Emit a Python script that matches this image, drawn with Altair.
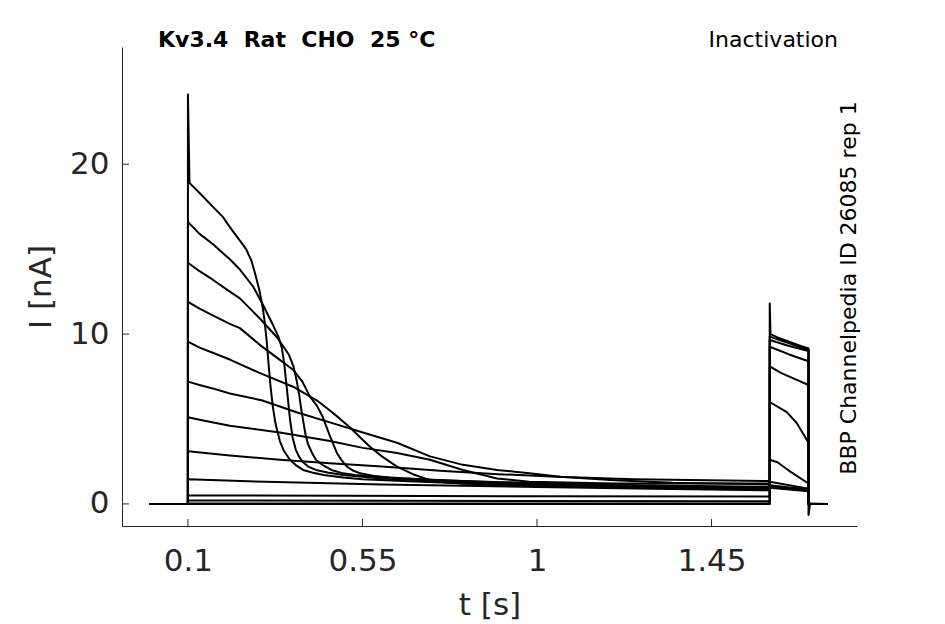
import altair as alt
import pandas as pd

# axis ticks
x_ticks = [0.1, 0.55, 1, 1.45]
y_ticks = [0, 10, 20]

# holding potential before the prepulse, and after the test pulse
hold_t = [0.0, 0.1]
hold_i = [0.0, 0.0]
end_t = [1.75]
end_i = [0.0]

# prepulse segment (0.1 - 1.6 s), one pair of lists per sweep
pre_t1 = [0.1, 0.104, 0.13, 0.164, 0.19, 0.208, 0.234, 0.25, 0.264, 0.275, 0.284, 0.291, 0.297, 0.303, 0.308, 0.313,
          0.319, 0.326, 0.337, 0.348, 0.363, 0.38, 0.397, 0.42, 0.45, 0.5, 0.55, 0.7, 0.9, 1.1, 1.3, 1.6]
pre_i1 = [24.1, 18.9, 18.3, 17.5, 16.9, 16.3, 15.5, 15.0, 14.3, 13.4, 12.6, 11.8, 10.9, 9.6, 8.2, 6.9,
          5.7, 4.7, 3.7, 3.1, 2.6, 2.25, 2.0, 1.85, 1.7, 1.55, 1.45, 1.3, 1.15, 1.05, 0.95, 0.85]
pre_t2 = [0.1, 0.13, 0.164, 0.208, 0.234, 0.268, 0.294, 0.32, 0.334, 0.342, 0.348, 0.355, 0.363, 0.37, 0.378, 0.386,
          0.395, 0.41, 0.43, 0.46, 0.5, 0.6, 0.8, 1.0, 1.3, 1.6]
pre_i2 = [16.6, 15.9, 15.3, 14.4, 13.8, 12.8, 11.7, 10.5, 9.8, 9.2, 8.3, 6.8, 5.0, 3.9, 3.2, 2.8,
          2.5, 2.2, 2.0, 1.85, 1.7, 1.5, 1.3, 1.15, 1.0, 0.9]
pre_t3 = [0.1, 0.13, 0.164, 0.208, 0.234, 0.286, 0.33, 0.36, 0.372, 0.38, 0.387, 0.392, 0.397, 0.403, 0.41, 0.42,
          0.43, 0.45, 0.47, 0.5, 0.53, 0.65, 0.85, 1.1, 1.35, 1.6]
pre_i3 = [14.2, 13.7, 13.2, 12.5, 12.1, 10.9, 9.8, 8.8, 8.1, 7.3, 6.4, 5.6, 4.9, 4.1, 3.5, 3.0,
          2.6, 2.25, 2.0, 1.8, 1.7, 1.5, 1.3, 1.15, 1.05, 0.95]
pre_t4 = [0.1, 0.13, 0.164, 0.208, 0.234, 0.286, 0.33, 0.371, 0.395, 0.415, 0.432, 0.448, 0.466, 0.484, 0.497, 0.51,
          0.527, 0.544, 0.58, 0.62, 0.75, 0.95, 1.2, 1.6]
pre_i4 = [11.9, 11.5, 11.1, 10.6, 10.35, 9.35, 8.6, 7.9, 7.2, 6.3, 5.8, 5.1, 4.0, 3.0, 2.55, 2.2,
          1.95, 1.8, 1.65, 1.55, 1.4, 1.25, 1.1, 1.0]
pre_t5 = [0.1, 0.13, 0.164, 0.208, 0.286, 0.371, 0.432, 0.466, 0.49, 0.518, 0.545, 0.57, 0.6, 0.639, 0.68, 0.724,
          0.76, 0.8, 0.9, 1.0, 1.3, 1.6]
pre_i5 = [9.55, 9.2, 8.9, 8.5, 7.7, 6.9, 6.1, 5.5, 5.05, 4.5, 3.9, 3.35, 2.8, 2.2, 1.75, 1.4,
          1.28, 1.2, 1.1, 1.05, 0.95, 0.95]
pre_t6 = [0.1, 0.13, 0.164, 0.208, 0.29, 0.38, 0.466, 0.551, 0.639, 0.724, 0.809, 0.897, 0.98, 1.06, 1.2, 1.35, 1.6]
pre_i6 = [7.2, 7.0, 6.8, 6.5, 6.1, 5.4, 4.8, 4.2, 3.6, 2.8, 2.3, 2.0, 1.8, 1.6, 1.4, 1.25, 1.15]
pre_t7 = [0.1, 0.13, 0.208, 0.337, 0.466, 0.551, 0.639, 0.724, 0.809, 0.897, 0.98, 1.2, 1.6]
pre_i7 = [5.1, 4.95, 4.6, 4.2, 3.7, 3.3, 3.0, 2.6, 2.0, 1.5, 1.3, 1.2, 1.2]
pre_t8 = [0.1, 0.208, 0.337, 0.466, 0.6, 0.75, 0.9, 1.05, 1.25, 1.6]
pre_i8 = [3.1, 2.85, 2.6, 2.4, 2.2, 1.95, 1.75, 1.6, 1.45, 1.35]
pre_t9 = [0.1, 0.3, 0.6, 1.0, 1.3, 1.6]
pre_i9 = [1.45, 1.3, 1.15, 1.0, 0.9, 0.8]
pre_t10 = [0.1, 0.5, 1.0, 1.6]
pre_i10 = [0.5, 0.48, 0.45, 0.43]
pre_t11 = [0.1, 1.6]
pre_i11 = [0.2, 0.15]
pre_t12 = [0.1, 1.6]
pre_i12 = [0.03, 0.02]
pre_t13 = [0.1, 1.6]
pre_i13 = [0.0, 0.0]

# test pulse segment (1.6 - 1.7 s)
test_t1 = [1.6, 1.7, 1.7]
test_i1 = [0.95, 0.75, 0.0]
test_t2 = [1.6, 1.7, 1.7]
test_i2 = [1.0, 0.78, 0.0]
test_t3 = [1.6, 1.7, 1.7]
test_i3 = [1.0, 0.8, 0.0]
test_t4 = [1.6, 1.7, 1.7]
test_i4 = [1.05, 0.8, 0.0]
test_t5 = [1.6, 1.7, 1.7]
test_i5 = [1.1, 0.85, 0.0]
test_t6 = [1.6, 1.7, 1.7]
test_i6 = [1.3, 0.9, 0.0]
test_t7 = [1.6, 1.62, 1.65, 1.7, 1.7]
test_i7 = [2.6, 2.45, 1.95, 1.2, 0.0]
test_t8 = [1.6, 1.644, 1.67, 1.7, 1.7]
test_i8 = [6.0, 5.4, 4.75, 3.6, 0.0]
test_t9 = [1.6, 1.63, 1.67, 1.7, 1.7]
test_i9 = [8.1, 7.7, 7.3, 7.0, 0.0]
test_t10 = [1.6, 1.65, 1.7, 1.7]
test_i10 = [9.25, 8.8, 8.4, 0.0]
test_t11 = [1.6, 1.65, 1.7, 1.7]
test_i11 = [9.65, 9.3, 9.0, 0.0]
test_t12 = [1.6, 1.65, 1.7, 1.7]
test_i12 = [9.85, 9.45, 9.06, 0.0]
test_t13 = [1.6, 1.602, 1.62, 1.65, 1.68, 1.7, 1.7, 1.704]
test_i13 = [11.8, 10.0, 9.8, 9.55, 9.3, 9.15, -0.65, 0.02]

pre_ts = [pre_t1, pre_t2, pre_t3, pre_t4, pre_t5, pre_t6, pre_t7, pre_t8, pre_t9, pre_t10, pre_t11, pre_t12, pre_t13]
pre_is = [pre_i1, pre_i2, pre_i3, pre_i4, pre_i5, pre_i6, pre_i7, pre_i8, pre_i9, pre_i10, pre_i11, pre_i12, pre_i13]
test_ts = [test_t1, test_t2, test_t3, test_t4, test_t5, test_t6, test_t7, test_t8, test_t9, test_t10, test_t11, test_t12, test_t13]
test_is = [test_i1, test_i2, test_i3, test_i4, test_i5, test_i6, test_i7, test_i8, test_i9, test_i10, test_i11, test_i12, test_i13]

rows = []
for n in range(len(pre_ts)):
    ts = hold_t + pre_ts[n] + test_ts[n] + end_t
    vs = hold_i + pre_is[n] + test_is[n] + end_i
    for k, (t, v) in enumerate(zip(ts, vs)):
        rows.append({'sweep': n + 1, 'k': k, 't': t, 'I': v})
df = pd.DataFrame(rows)

W, H = 735, 479
FONT = 'DejaVu Sans'
INK = '#262626'

x_scale = alt.Scale(domain=[-0.07, 1.825], nice=False, zero=False)
y_scale = alt.Scale(domain=[-1.3, 26.9], nice=False, zero=False)
x_axis = alt.Axis(values=x_ticks, labelExpr='toString(datum.value)', title='t [s]', ticks=False, tickSize=0,
                  labelPadding=20, titlePadding=14, grid=False)
y_axis = alt.Axis(values=y_ticks, title='I [nA]', ticks=False, tickSize=0,
                  labelPadding=13, titlePadding=12, grid=False)

traces = alt.Chart(df).mark_line(color='black', strokeWidth=2, strokeJoin='round').encode(
    x=alt.X('t:Q', scale=x_scale, axis=x_axis),
    y=alt.Y('I:Q', scale=y_scale, axis=y_axis),
    detail='sweep:N',
    order='k:Q'
)

# inward tick marks
x_tick_marks = alt.Chart(pd.DataFrame({'t': x_ticks})).mark_rule(color=INK, strokeWidth=1).encode(
    x=alt.X('t:Q', scale=x_scale, axis=x_axis),
    y=alt.value(H), y2=alt.value(H - 7)
)
y_tick_marks = alt.Chart(pd.DataFrame({'I': y_ticks})).mark_rule(color=INK, strokeWidth=1).encode(
    y=alt.Y('I:Q', scale=y_scale, axis=y_axis),
    x=alt.value(0), x2=alt.value(7)
)

head_left = alt.Chart(pd.DataFrame({'s': ['Kv3.4\u00a0 Rat\u00a0 CHO\u00a0 25 °C']})).mark_text(
    align='left', baseline='alphabetic', font=FONT, fontWeight='bold', fontSize=22, color='black'
).encode(text='s:N', x=alt.value(36), y=alt.value(0))

head_right = alt.Chart(pd.DataFrame({'s': ['Inactivation']})).mark_text(
    align='right', baseline='alphabetic', font=FONT, fontSize=22, color='black'
).encode(text='s:N', x=alt.value(716), y=alt.value(0))

side = alt.Chart(pd.DataFrame({'s': ['BBP Channelpedia ID 26085 rep 1']})).mark_text(
    align='center', baseline='middle', angle=270, font=FONT, fontSize=22, color='black'
).encode(text='s:N', x=alt.value(727), y=alt.value(241))

chart = alt.layer(traces, x_tick_marks, y_tick_marks, head_left, head_right, side).properties(
    width=W, height=H,
    padding={'left': 114, 'top': 39, 'right': 80, 'bottom': 98},
    autosize=alt.AutoSizeParams(type='none')
).configure_view(stroke=None).configure_axis(
    domainColor=INK, domainWidth=1, labelColor=INK, titleColor=INK,
    labelFont=FONT, titleFont=FONT, labelFontSize=31, titleFontSize=31,
    titleFontWeight='normal'
)

chart.save("out.html", embed_options={"renderer": "svg", "actions": False})
